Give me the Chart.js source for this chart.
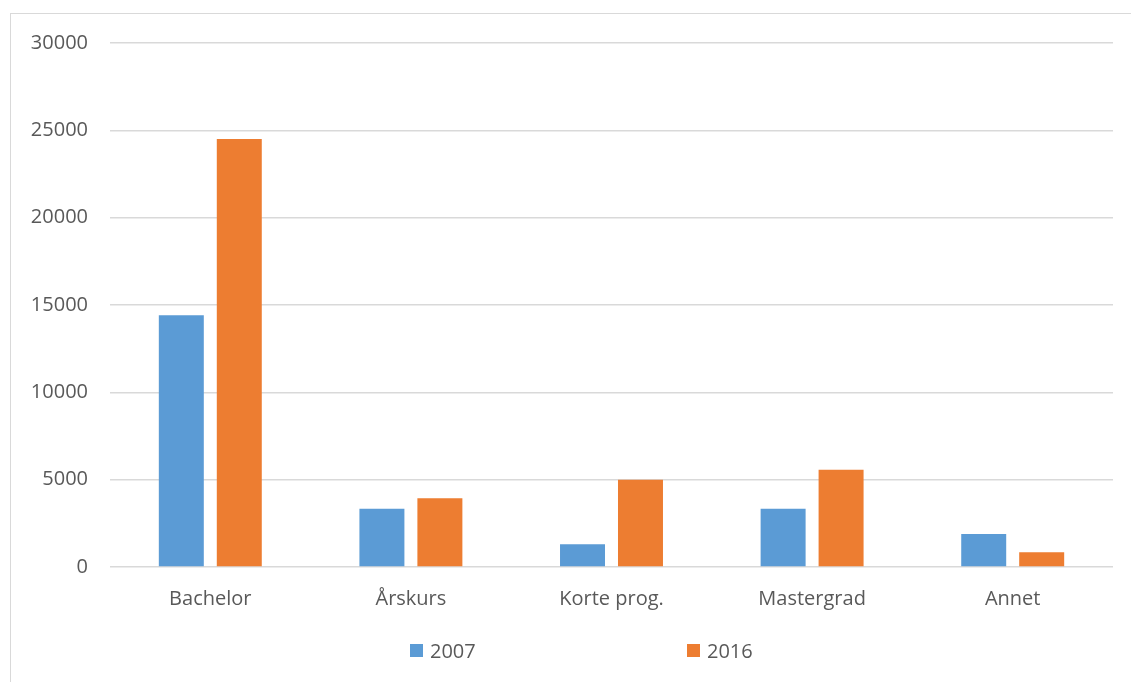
<!DOCTYPE html>
<html lang="no">
<head>
  <meta charset="UTF-8" />
  <title>Studenter etter programtype</title>
  <script src="https://cdn.jsdelivr.net/npm/chart.js@4.4.1/dist/chart.umd.min.js"></script>
  <style>
    body {
      margin: 0;
      background: #ffffff;
      font-family: 'Open Sans', sans-serif;
      overflow: hidden;
    }
    .frame {
      position: absolute;
      left: 10px;
      top: 13px;
      width: 1140px;
      height: 700px;
      border: 1px solid #d9d9d9;
    }
    .chart-box {
      position: absolute;
      left: 0;
      top: 0;
      width: 1131px;
      height: 682px;
    }
    .legend-item {
      position: absolute;
      top: 637px;
      display: flex;
      align-items: center;
      gap: 7px;
      font-size: 20px;
      color: #595959;
    }
    .legend-item span.box {
      display: inline-block;
      width: 13px;
      height: 13px;
    }
  </style>
</head>
<body>
  <div class="frame"></div>
  <div class="chart-box">
    <canvas id="chart"></canvas>
  </div>
  <div id="legend"></div>

  <script>
    // Data
    const categories = ['Bachelor', 'Årskurs', 'Korte prog.', 'Mastergrad', 'Annet'];
    const values2007 = [14420, 3340, 1300, 3340, 1890];
    const values2016 = [24500, 3940, 4990, 5570, 840];
    const seriesNames = ['2007', '2016'];
    const colors = ['#5b9bd5', '#ed7d31'];
    const yMax = 30000;
    const yStep = 5000;

    const textColor = '#595959';
    const gridColor = '#d9d9d9';

    const ctx = document.getElementById('chart').getContext('2d');
    const chart = new Chart(ctx, {
      type: 'bar',
      data: {
        labels: categories,
        datasets: [
          { label: seriesNames[0], data: values2007, backgroundColor: colors[0] },
          { label: seriesNames[1], data: values2016, backgroundColor: colors[1] }
        ]
      },
      options: {
        responsive: true,
        maintainAspectRatio: false,
        animation: false,
        categoryPercentage: 0.578,
        barPercentage: 0.776,
        layout: {
          padding: { top: 43, right: 18, bottom: 51, left: 0 }
        },
        scales: {
          x: {
            grid: { display: false, drawTicks: false },
            border: { display: false },
            ticks: {
              color: textColor,
              padding: 20,
              font: { family: "'Open Sans', sans-serif", size: 20 }
            }
          },
          y: {
            min: 0,
            max: yMax,
            afterFit: function(scale) { scale.width = 110; },
            grid: { color: gridColor, lineWidth: 1.5, drawTicks: false },
            border: { display: false },
            ticks: {
              stepSize: yStep,
              color: textColor,
              padding: 22,
              font: { family: "'Open Sans', sans-serif", size: 20 },
              callback: function(v) { return String(v); }
            }
          }
        },
        plugins: {
          legend: { display: false },
          tooltip: { enabled: false }
        }
      }
    });

    // Legend built as html, spaced like the original
    const legendPos = [410, 687];
    const legendEl = document.getElementById('legend');
    seriesNames.forEach((name, i) => {
      const item = document.createElement('div');
      item.className = 'legend-item';
      item.style.left = legendPos[i] + 'px';
      item.innerHTML = '<span class="box" style="background:' + colors[i] + '"></span>' + name;
      legendEl.appendChild(item);
    });
  </script>
</body>
</html>
